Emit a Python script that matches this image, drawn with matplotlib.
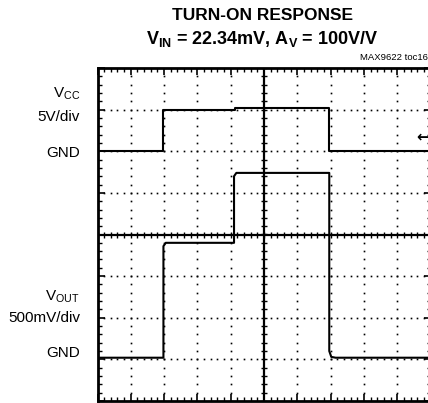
import numpy as np
import matplotlib
matplotlib.use('Agg')
import matplotlib.pyplot as plt

plt.rcParams['font.family'] = ['Liberation Sans', 'DejaVu Sans']
plt.rcParams['mathtext.fontset'] = 'custom'
plt.rcParams['mathtext.rm'] = 'Liberation Sans'
plt.rcParams['mathtext.bf'] = 'Liberation Sans:bold'

# scope traces, time in divisions
vcc_t = [0, 1.98, 1.98, 4.14, 4.14, 6.96, 6.96, 10]
vcc_v = [0, 0, 5.0, 5.0, 5.15, 5.15, 0.05, 0.05]   # volts
vout_t = [0, 1.98, 1.98, 2.05, 4.1, 4.1, 4.17, 6.96, 6.96, 7.02, 7.15, 10]
vout_v = [0.02, 0.02, 1.36, 1.40, 1.40, 2.20, 2.24, 2.24, 0.10, 0.03, 0.02, 0.02]   # volts

vcc_scale = 5.0     # V/div
vout_scale = 0.5    # V/div
vcc_gnd = 2         # div from centre
vout_gnd = -3

fig = plt.figure(figsize=(4.28, 4.03), dpi=100)
ax = fig.add_axes([97.5/428, 2/403, 333/428, 333/403])
ax.set_xlim(0, 10)
ax.set_ylim(-4, 4)

# dotted graticule
for gx in range(1, 10):
    if gx == 5:
        continue
    yy = np.arange(-4, 4.01, 0.2)
    ax.plot(np.full_like(yy, gx), yy, ls='none', marker='s', ms=1.2, color='black', mew=0)
for gy in range(-3, 4):
    if gy == 0:
        continue
    xx = np.arange(0, 10.01, 0.2)
    ax.plot(xx, np.full_like(xx, gy), ls='none', marker='s', ms=1.2, color='black', mew=0)

# centre cross with ticks
ax.axhline(0, color='black', lw=1.6)
ax.axvline(5, color='black', lw=1.6)
xx = np.arange(0, 10.01, 0.2)
ax.plot(xx, np.zeros_like(xx), ls='none', marker='|', ms=5, mew=1.0, color='black')
yy = np.arange(-4, 4.01, 0.2)
ax.plot(np.full_like(yy, 5), yy, ls='none', marker='_', ms=5, mew=1.0, color='black')

# traces
ax.plot(vcc_t, np.array(vcc_v) / vcc_scale + vcc_gnd, color='black', lw=1.5)
ax.plot(vout_t, np.array(vout_v) / vout_scale + vout_gnd, color='black', lw=1.5)

# border ticks
ax.set_xticks(np.arange(0, 11, 1))
ax.set_xticks(np.arange(0, 10.01, 0.2), minor=True)
ax.set_yticks(np.arange(-4, 5, 1))
ax.set_yticks(np.arange(-4, 4.01, 0.2), minor=True)
ax.tick_params(which='both', direction='in', top=True, right=True,
               labelbottom=False, labelleft=False, color='black')
ax.tick_params(which='major', length=5, width=1.2)
ax.tick_params(which='minor', length=3, width=1.0)
for s in ax.spines.values():
    s.set_linewidth(2)

# labels left
lab = dict(ha='right', va='center', fontsize=11, transform=fig.transFigure)
fig.text(80/428, 1 - 94/403, r'$\mathregular{V_{CC}}$', **lab)
fig.text(80/428, 1 - 117/403, '5V/div', **lab)
fig.text(80/428, 1 - 153/403, 'GND', **lab)
fig.text(80/428, 1 - 297/403, r'$\mathregular{V_{OUT}}$', **lab)
fig.text(80/428, 1 - 318/403, '500mV/div', **lab)
fig.text(80/428, 1 - 353/403, 'GND', **lab)

# title
fig.text(263/428, 1 - 15/403, 'TURN-ON RESPONSE', ha='center', va='center',
         fontsize=12.5, fontweight='bold')
fig.text(262/428, 1 - 39/403, r'$\mathbf{V_{IN}}$ = 22.34mV, $\mathbf{A_{V}}$ = 100V/V',
         ha='center', va='center', fontsize=13, fontweight='bold')
fig.text(428/428, 1 - 57/403, 'MAX9622 toc16', ha='right', va='center', fontsize=6.8)

# trace marker
fig.text(429/428, 1 - 137/403, '\u2190', ha='right', va='center', fontsize=11,
         fontweight='bold', family='DejaVu Sans')

fig.savefig('out.png', dpi=100)
